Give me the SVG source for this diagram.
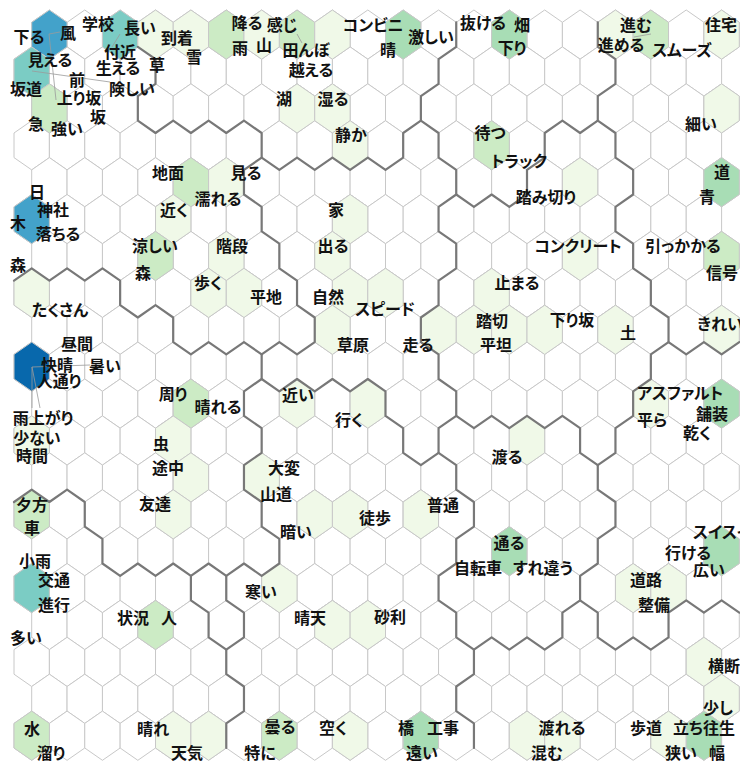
<svg xmlns="http://www.w3.org/2000/svg" xmlns:xlink="http://www.w3.org/1999/xlink" width="740" height="763" viewBox="0 0 740 763">
<style>
.t{font-family:"Noto Sans CJK JP","Noto Sans CJK SC",sans-serif;font-size:16px;font-weight:700;fill:#111;text-anchor:middle;dominant-baseline:central;font-feature-settings:"palt"}
.s{text-anchor:start}
.c1{fill:#f0f9e8}.c2{fill:#ccebc5}.c3{fill:#a8ddb5}.c4{fill:#7bccc4}.c5{fill:#43a2ca}.c6{fill:#0868ac}
.b{fill:none;stroke:#787878;stroke-width:2.2;stroke-linejoin:round;stroke-linecap:round}
.ld{fill:none;stroke:#9a9a9a;stroke-width:0.8}
</style>
<defs>
<polygon id="h" points="0,-2 1,-1 1,1 0,2 -1,1 -1,-1" vector-effect="non-scaling-stroke"/>
<g id="row"><use href="#h" x="0"/><use href="#h" x="2"/><use href="#h" x="4"/><use href="#h" x="6"/><use href="#h" x="8"/><use href="#h" x="10"/><use href="#h" x="12"/><use href="#h" x="14"/><use href="#h" x="16"/><use href="#h" x="18"/><use href="#h" x="20"/><use href="#h" x="22"/><use href="#h" x="24"/><use href="#h" x="26"/><use href="#h" x="28"/><use href="#h" x="30"/><use href="#h" x="32"/><use href="#h" x="34"/><use href="#h" x="36"/><use href="#h" x="38"/></g>
</defs>
<rect width="740" height="763" fill="#fff"/>
<g id="map" transform="translate(14,10) scale(17.69,12.3)">
<g id="grid" fill="#fff" stroke="#c8c8c8" stroke-width="1">
<use href="#row" x="2" y="2"/><use href="#row" x="1" y="5"/><use href="#row" x="2" y="8"/><use href="#row" x="1" y="11"/><use href="#row" x="2" y="14"/><use href="#row" x="1" y="17"/><use href="#row" x="2" y="20"/><use href="#row" x="1" y="23"/><use href="#row" x="2" y="26"/><use href="#row" x="1" y="29"/><use href="#row" x="2" y="32"/><use href="#row" x="1" y="35"/><use href="#row" x="2" y="38"/><use href="#row" x="1" y="41"/><use href="#row" x="2" y="44"/><use href="#row" x="1" y="47"/><use href="#row" x="2" y="50"/><use href="#row" x="1" y="53"/><use href="#row" x="2" y="56"/><use href="#row" x="1" y="59"/>
</g>
<g id="fills" stroke="#c8c8c8" stroke-width="1">
<use href="#h" x="2" y="2" class="c5"/><use href="#h" x="6" y="2" class="c4"/><use href="#h" x="8" y="2" class="c1"/><use href="#h" x="10" y="2" class="c1"/><use href="#h" x="12" y="2" class="c2"/><use href="#h" x="14" y="2" class="c1"/><use href="#h" x="16" y="2" class="c2"/><use href="#h" x="18" y="2" class="c1"/><use href="#h" x="22" y="2" class="c3"/><use href="#h" x="28" y="2" class="c3"/><use href="#h" x="34" y="2" class="c1"/><use href="#h" x="36" y="2" class="c2"/><use href="#h" x="40" y="2" class="c1"/>
<use href="#h" x="1" y="5" class="c4"/>
<use href="#h" x="2" y="8" class="c2"/><use href="#h" x="16" y="8" class="c1"/><use href="#h" x="18" y="8" class="c1"/><use href="#h" x="40" y="8" class="c1"/>
<use href="#h" x="19" y="11" class="c1"/><use href="#h" x="27" y="11" class="c2"/>
<use href="#h" x="10" y="14" class="c2"/><use href="#h" x="12" y="14" class="c1"/><use href="#h" x="32" y="14" class="c1"/><use href="#h" x="40" y="14" class="c3"/>
<use href="#h" x="1" y="17" class="c5"/><use href="#h" x="9" y="17" class="c1"/><use href="#h" x="19" y="17" class="c1"/>
<use href="#h" x="8" y="20" class="c2"/><use href="#h" x="12" y="20" class="c1"/><use href="#h" x="18" y="20" class="c1"/><use href="#h" x="32" y="20" class="c1"/><use href="#h" x="40" y="20" class="c2"/>
<use href="#h" x="1" y="23" class="c1"/><use href="#h" x="11" y="23" class="c1"/><use href="#h" x="13" y="23" class="c1"/><use href="#h" x="19" y="23" class="c1"/><use href="#h" x="21" y="23" class="c1"/><use href="#h" x="27" y="23" class="c1"/>
<use href="#h" x="18" y="26" class="c1"/><use href="#h" x="24" y="26" class="c1"/><use href="#h" x="26" y="26" class="c1"/><use href="#h" x="28" y="26" class="c1"/><use href="#h" x="30" y="26" class="c1"/><use href="#h" x="34" y="26" class="c1"/><use href="#h" x="40" y="26" class="c1"/>
<use href="#h" x="1" y="29" class="c6"/>
<use href="#h" x="10" y="32" class="c2"/><use href="#h" x="16" y="32" class="c1"/><use href="#h" x="20" y="32" class="c1"/><use href="#h" x="36" y="32" class="c1"/><use href="#h" x="40" y="32" class="c3"/>
<use href="#h" x="1" y="35" class="c1"/><use href="#h" x="9" y="35" class="c1"/><use href="#h" x="29" y="35" class="c1"/>
<use href="#h" x="10" y="38" class="c1"/><use href="#h" x="14" y="38" class="c1"/>
<use href="#h" x="1" y="41" class="c2"/><use href="#h" x="9" y="41" class="c1"/><use href="#h" x="17" y="41" class="c1"/><use href="#h" x="19" y="41" class="c1"/><use href="#h" x="23" y="41" class="c1"/>
<use href="#h" x="28" y="44" class="c3"/><use href="#h" x="40" y="44" class="c3"/>
<use href="#h" x="1" y="47" class="c4"/><use href="#h" x="15" y="47" class="c1"/><use href="#h" x="35" y="47" class="c1"/><use href="#h" x="37" y="47" class="c1"/>
<use href="#h" x="8" y="50" class="c2"/><use href="#h" x="18" y="50" class="c1"/><use href="#h" x="20" y="50" class="c1"/>
<use href="#h" x="39" y="53" class="c1"/>
<use href="#h" x="40" y="56" class="c1"/>
<use href="#h" x="1" y="59" class="c2"/><use href="#h" x="9" y="59" class="c1"/><use href="#h" x="11" y="59" class="c1"/><use href="#h" x="15" y="59" class="c2"/><use href="#h" x="19" y="59" class="c1"/><use href="#h" x="23" y="59" class="c3"/><use href="#h" x="29" y="59" class="c1"/><use href="#h" x="31" y="59" class="c1"/><use href="#h" x="37" y="59" class="c1"/><use href="#h" x="39" y="59" class="c3"/>
</g>
<g id="boundaries" class="b">
<path vector-effect="non-scaling-stroke" d="M7,3 8,4 8,6 7,7 7,9 8,10 9,9 10,10 11,9 12,10 13,9 14,10 14,12 13,13 13,15 14,16 14,18 15,19 15,21 16,22 16,24 17,25 17,27 16,28 15,27 14,28 14,30 13,31 13,33 14,34 14,36 13,37 13,39 14,40 14,42 15,43 15,45 14,46 13,45 12,46 12,48 13,49 13,51 12,52 12,54 13,55 13,57 12,58 12,60"/>
<path vector-effect="non-scaling-stroke" d="M0,22 1,21 2,22 3,21 4,22 5,21 6,22 6,24 7,25 8,24 9,25 9,27 10,28 11,27 12,28 13,27 14,28"/>
<path vector-effect="non-scaling-stroke" d="M14,30 15,31 16,30 17,31 18,30 19,31 20,30 21,31 21,33 22,34 22,36 23,37 24,36"/>
<path vector-effect="non-scaling-stroke" d="M33,1 33,3 34,4 34,6 33,7 33,9 34,10 34,12 35,13 35,15 34,16 34,18 35,19 35,21 36,22 36,24 37,25 37,27 36,28 36,30 35,31 35,33 34,34 34,36 33,37 33,39 34,40 34,42 33,43 33,45 32,46 32,48 31,49 31,51 30,52 29,51 28,52 27,51 26,52 26,54 25,55 25,57 26,58 26,60"/>
<path vector-effect="non-scaling-stroke" d="M33,9 32,10 31,9 30,10 30,12 29,13 29,15 28,16 27,15 26,16 25,15"/>
<path vector-effect="non-scaling-stroke" d="M37,27 38,28 39,27 40,28 41,27"/>
<path vector-effect="non-scaling-stroke" d="M25,33 26,34 27,33 28,34 29,33 30,34 31,33 32,34 32,36 33,37"/>
<path vector-effect="non-scaling-stroke" d="M32,48 33,49 33,51 34,52 35,51 36,52 37,51 37,49 38,48 39,49 40,48 41,49"/>
<path vector-effect="non-scaling-stroke" d="M23,9 24,10 24,12 25,13 25,15 24,16 24,18 25,19 25,21 24,22 24,24 23,25 23,27 24,28 24,30 25,31 25,33 24,34 24,36 25,37 25,39 26,40 26,42 25,43 25,45 24,46 24,48 25,49 25,51 26,52"/>
<path vector-effect="non-scaling-stroke" d="M0,40 1,39 2,40 3,39 4,40 4,42 5,43 5,45 6,46 7,45 8,46 9,45 10,46 10,48 11,49 11,51 12,52 M10,46 11,45 12,46"/>
<path vector-effect="non-scaling-stroke" d="M25,1 25,3 24,4 24,6 23,7 23,9 22,10 22,12 21,13 M14,12 15,13 16,12 17,13 18,12 19,13 20,12 21,13"/>
</g>
</g>
<g id="leaders" class="ld">
<path d="M49,34 L60,32 M49,34 L56,100 M32,71 L110,82 M120,34 L112,47 M297,34 L302,43 M651,34 L634,37 M32,367 L90,365 M32,367 L32,408 M32,367 L40,408"/>
</g>
<g id="labels" class="t">
<text x="29" y="36">下る</text><text x="68" y="32">風</text><text x="98" y="23">学校</text><text x="140" y="27">長い</text><text x="177" y="37">到着</text><text x="194" y="56">雪</text><text x="247" y="22">降る</text><text x="282" y="24">感じ</text><text x="240" y="47">雨</text><text x="264" y="44">山</text><text x="306" y="49">田んぼ</text><text x="311" y="69">越える</text><text x="373" y="24">コンビニ</text><text x="388" y="49">晴</text><text x="431" y="36">激しい</text><text x="483" y="22">抜ける</text><text x="522" y="24">畑</text><text x="512" y="47">下り</text><text x="636" y="24">進む</text><text x="621" y="44">進める</text><text x="682" y="49">スムーズ</text><text x="721" y="24">住宅</text>
<text x="50" y="59">見える</text><text x="120" y="51">付近</text><text x="118" y="67">生える</text><text x="157" y="64">草</text><text x="77" y="79">前</text><text x="26" y="88">坂道</text><text x="132" y="88">険しい</text><text x="79" y="97">上り坂</text><text x="98" y="116">坂</text><text x="36" y="123">急</text><text x="67" y="128">強い</text><text x="284" y="98">湖</text><text x="333" y="98">湿る</text><text x="701" y="123">細い</text><text x="351" y="134">静か</text><text x="490" y="132">待つ</text><text x="519" y="160">トラック</text>
<text x="168" y="172">地面</text><text x="246" y="172">見る</text><text x="722" y="171">道</text><text x="37" y="191">日</text><text x="218" y="198">濡れる</text><text x="546" y="196">踏み切り</text><text x="707" y="196">青</text><text x="53" y="209">神社</text><text x="174" y="209">近く</text><text x="336" y="209">家</text><text x="18" y="222">木</text><text x="58" y="233">落ちる</text>
<text x="155" y="245">涼しい</text><text x="232" y="245">階段</text><text x="333" y="245">出る</text><text x="578" y="245">コンクリート</text><text x="683" y="245">引っかかる</text>
<text x="18" y="264">森</text><text x="143" y="272">森</text><text x="722" y="272">信号</text><text x="208" y="282">歩く</text><text x="517" y="282">止まる</text><text x="266" y="296">平地</text><text x="328" y="296">自然</text><text x="385" y="308">スピード</text><text x="60" y="309">たくさん</text><text x="492" y="320">踏切</text><text x="572" y="319">下り坂</text><text x="720" y="323">きれい</text><text x="628" y="332">土</text>
<text x="77" y="343">昼間</text><text x="353" y="344">草原</text><text x="418" y="344">走る</text><text x="496" y="344">平坦</text><text x="57" y="364">快晴</text><text x="105" y="365">暑い</text><text x="59" y="380">人通り</text><text x="680" y="392">アスファルト</text><text x="173" y="393">周り</text><text x="298" y="394">近い</text><text x="218" y="406">晴れる</text><text x="712" y="413">舗装</text><text x="43" y="417">雨上がり</text><text x="652" y="419">平ら</text><text x="349" y="419">行く</text><text x="697" y="432">乾く</text><text x="37" y="437">少ない</text><text x="161" y="443">虫</text><text x="32" y="455">時間</text><text x="507" y="456">渡る</text><text x="168" y="467">途中</text><text x="284" y="467">大変</text><text x="276" y="493">山道</text>
<text x="32" y="504">夕方</text><text x="155" y="503">友達</text><text x="443" y="504">普通</text><text x="375" y="517">徒歩</text><text x="32" y="527">車</text><text x="296" y="531">暗い</text><text class="t s" x="693" y="531">スイスイ</text><text x="509" y="542">通る</text><text x="688" y="552">行ける</text><text x="35" y="560">小雨</text><text x="478" y="567">自転車</text><text x="543" y="567">すれ違う</text><text x="709" y="569">広い</text><text x="54" y="579">交通</text><text x="646" y="579">道路</text><text x="261" y="591">寒い</text><text x="54" y="604">進行</text><text x="654" y="604">整備</text><text x="133" y="617">状況</text><text x="169" y="617">人</text><text x="310" y="617">晴天</text><text x="390" y="616">砂利</text><text x="26" y="637">多い</text><text class="t s" x="708" y="665">横断</text><text x="718" y="707">少し</text>
<text x="32" y="728">水</text><text x="153" y="728">晴れ</text><text x="280" y="726">曇る</text><text x="333" y="727">空く</text><text x="406" y="727">橋</text><text x="443" y="727">工事</text><text x="562" y="727">渡れる</text><text x="646" y="727">歩道</text><text x="704" y="727">立ち往生</text><text x="51" y="752">溜り</text><text x="187" y="752">天気</text><text x="260" y="752">特に</text><text x="422" y="752">遠い</text><text x="547" y="752">混む</text><text x="681" y="752">狭い</text><text x="717" y="752">幅</text>
</g>
</svg>
